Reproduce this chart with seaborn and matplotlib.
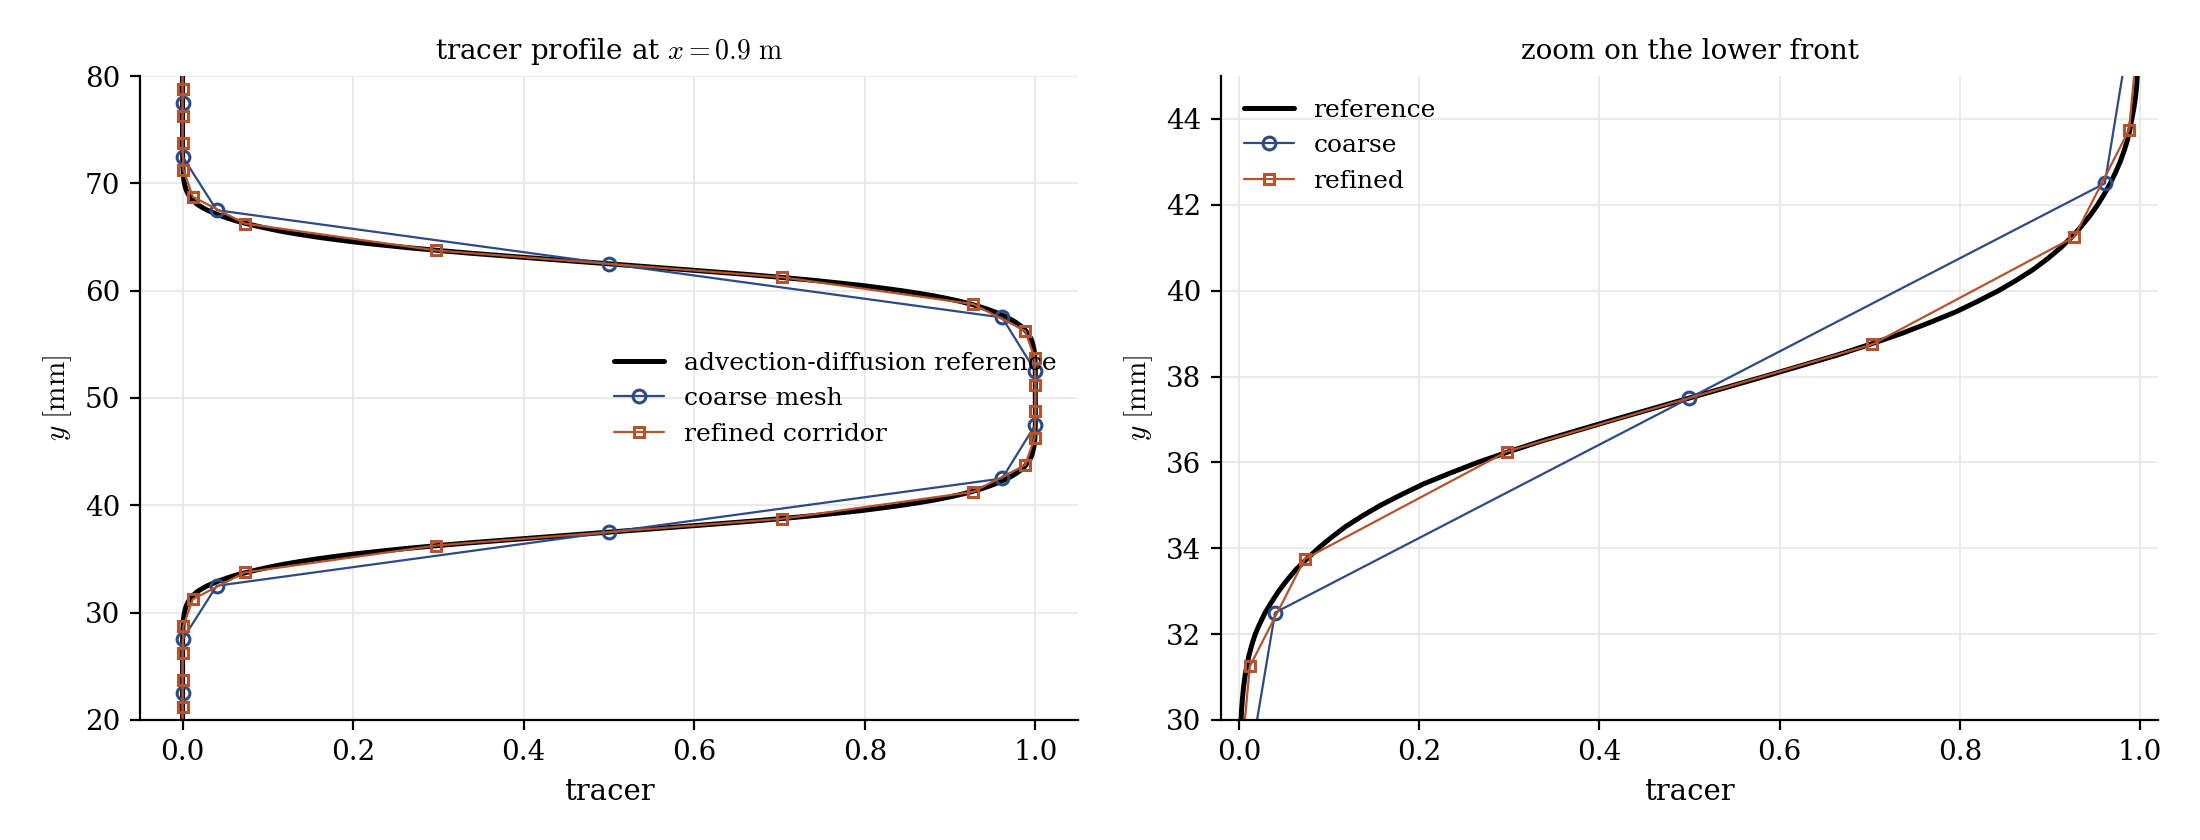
import numpy as np
import pandas as pd
import matplotlib
matplotlib.use("Agg")
import matplotlib.pyplot as plt
import seaborn as sns

# ---------------- data ----------------
# sampling positions of the reference curve [mm] (denser across the two fronts)
ref_y = np.concatenate([
    [15.0, 20.0, 25.0, 26.0, 27.0, 27.5],
    [28.0, 28.5],
    np.arange(29.0, 45.01, 0.25),
    [45.5, 46.0, 46.5, 47.0, 47.5],
    [48.0, 49.0, 50.0, 51.0, 52.0],
    [52.5, 53.0, 53.5, 54.0, 54.5],
    np.arange(55.0, 71.01, 0.25),
    [71.5, 72.0],
    [72.5, 73.0, 74.0, 75.0, 80.0, 85.0],
])
ref_tracer = (
    [0.0, 0.0, 0.0, 0.0, 0.0, 0.0001]
    + [0.0002, 0.0004]
    + [0.0007, 0.0009, 0.0012, 0.0016, 0.0022, 0.0029, 0.0038, 0.0050,
       0.0065, 0.0085, 0.011, 0.0142, 0.018, 0.0232, 0.029, 0.0362,
       0.044, 0.0530, 0.063, 0.0752, 0.088, 0.1024, 0.118, 0.1366,
       0.157, 0.1803, 0.205, 0.2343, 0.265, 0.2996, 0.336, 0.3763,
       0.417, 0.4585, 0.500, 0.5415, 0.583, 0.6237, 0.664, 0.7004,
       0.735, 0.7657, 0.795, 0.8197, 0.843, 0.8634, 0.882, 0.8978,
       0.912, 0.9243, 0.935, 0.9446, 0.953, 0.9604, 0.967, 0.9728,
       0.978, 0.9823, 0.986, 0.9888, 0.991, 0.9932, 0.995, 0.9962,
       0.997]
    + [0.9985, 0.9992, 0.9996, 0.9998, 0.9999]
    + [1.0, 1.0, 1.0, 1.0, 1.0]
    + [0.9999, 0.9998, 0.9996, 0.9992, 0.9985]
    + [0.997,
       0.9962, 0.995, 0.9932, 0.991, 0.9888, 0.986, 0.9823, 0.978,
       0.9728, 0.967, 0.9604, 0.953, 0.9446, 0.935, 0.9243, 0.912,
       0.8978, 0.882, 0.8634, 0.843, 0.8197, 0.795, 0.7657, 0.735,
       0.7004, 0.664, 0.6237, 0.583, 0.5415, 0.500, 0.4585, 0.417,
       0.3763, 0.336, 0.2996, 0.265, 0.2343, 0.205, 0.1803, 0.157,
       0.1366, 0.118, 0.1024, 0.088, 0.0752, 0.063, 0.0530, 0.044,
       0.0362, 0.029, 0.0232, 0.018, 0.0142, 0.011, 0.0085, 0.0065,
       0.0050, 0.0038, 0.0029, 0.0022, 0.0016, 0.0012, 0.0009, 0.0007]
    + [0.0004, 0.0002]
    + [0.0001, 0.0, 0.0, 0.0, 0.0, 0.0]
)
assert len(ref_y) == len(ref_tracer)

coarse_y = [17.5, 22.5, 27.5, 32.5, 37.5, 42.5, 47.5, 52.5, 57.5, 62.5, 67.5, 72.5, 77.5, 82.5]
coarse_tracer = [0.0, 0.0, 0.0, 0.04, 0.50, 0.961, 1.0, 1.0, 0.961, 0.50, 0.04, 0.0, 0.0, 0.0]

refined_y = [18.75, 21.25, 23.75, 26.25, 28.75, 31.25, 33.75, 36.25, 38.75, 41.25,
             43.75, 46.25, 48.75, 51.25, 53.75, 56.25, 58.75, 61.25, 63.75, 66.25,
             68.75, 71.25, 73.75, 76.25, 78.75, 81.25]
refined_tracer = [0.0, 0.0, 0.0, 0.0, 0.001, 0.012, 0.073, 0.297, 0.703, 0.927,
                  0.988, 0.999, 1.0, 1.0, 0.999, 0.988, 0.927, 0.703, 0.297, 0.073,
                  0.012, 0.001, 0.0, 0.0, 0.0, 0.0]

left_xticks = [0.0, 0.2, 0.4, 0.6, 0.8, 1.0]
left_yticks = [20, 30, 40, 50, 60, 70, 80]
right_yticks = [30, 32, 34, 36, 38, 40, 42, 44]

ref_df = pd.DataFrame({"tracer": ref_tracer, "y": ref_y})
coarse_df = pd.DataFrame({"tracer": coarse_tracer, "y": coarse_y})
refined_df = pd.DataFrame({"tracer": refined_tracer, "y": refined_y})

# ---------------- style ----------------
sns.set_theme(style="ticks")
plt.rcParams.update({
    "font.family": ["DejaVu Serif"],
    "mathtext.fontset": "cm",
    "axes.edgecolor": "black",
    "axes.linewidth": 0.8,
    "xtick.color": "black",
    "ytick.color": "black",
    "xtick.major.width": 0.8,
    "ytick.major.width": 0.8,
    "xtick.major.size": 3.5,
    "ytick.major.size": 3.5,
    "xtick.labelsize": 10,
    "ytick.labelsize": 10,
    "axes.labelsize": 10.5,
    "axes.titlesize": 10,
    "legend.fontsize": 9,
    "axes.labelcolor": "black",
    "text.color": "black",
})

C_COARSE = "#2c4a84"
C_REFINED = "#b5542c"

fig = plt.figure(figsize=(11, 4.2), dpi=200)
ax1 = fig.add_axes([0.0636, 0.1429, 0.4264, 0.7666])
ax2 = fig.add_axes([0.555, 0.1429, 0.4259, 0.7666])


def draw(ax, labels):
    sns.lineplot(data=ref_df, x="tracer", y="y", sort=False, estimator=None,
                 color="black", lw=1.8, ax=ax, label=labels[0],
                 solid_joinstyle="round")
    sns.lineplot(data=coarse_df, x="tracer", y="y", sort=False, estimator=None,
                 color=C_COARSE, lw=0.8, marker="o", markersize=4.6, mfc="none",
                 mec=C_COARSE, mew=1.1, ax=ax, label=labels[1])
    sns.lineplot(data=refined_df, x="tracer", y="y", sort=False, estimator=None,
                 color=C_REFINED, lw=0.8, marker="s", markersize=3.9, mfc="none",
                 mec=C_REFINED, mew=1.1, ax=ax, label=labels[2])
    ax.grid(True, color="#e6e6e6", lw=0.6)
    ax.set_axisbelow(True)
    sns.despine(ax=ax)
    ax.set_xlabel("tracer")
    ax.set_ylabel(r"$y\ [\mathrm{mm}]$")


draw(ax1, ["advection-diffusion reference", "coarse mesh", "refined corridor"])
ax1.set_xlim(-0.05, 1.05)
ax1.set_ylim(20, 80)
ax1.set_xticks(left_xticks)
ax1.set_yticks(left_yticks)
ax1.set_title(r"tracer profile at $x = 0.9\ \mathrm{m}$")
ax1.legend(loc="center left", bbox_to_anchor=(0.481, 0.499), frameon=False)

draw(ax2, ["reference", "coarse", "refined"])
ax2.set_xlim(-0.02, 1.02)
ax2.set_ylim(30, 45)
ax2.set_xticks(left_xticks)
ax2.set_yticks(right_yticks)
ax2.set_title("zoom on the lower front")
ax2.legend(loc="upper left", frameon=False)

fig.savefig("out.png", dpi=200)
